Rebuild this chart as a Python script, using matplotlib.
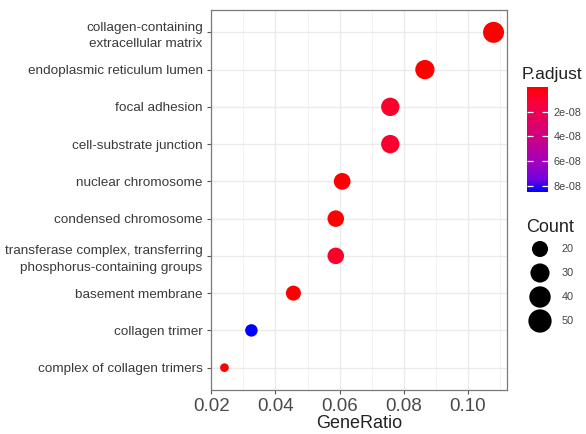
import matplotlib
matplotlib.use('Agg')
import matplotlib.pyplot as plt
import numpy as np
from matplotlib.colors import LinearSegmentedColormap, Normalize

plt.rcParams['font.family'] = ['Liberation Sans', 'DejaVu Sans']

# GO cellular component enrichment, top term first
terms = [
    'collagen-containing\nextracellular matrix',
    'endoplasmic reticulum lumen',
    'focal adhesion',
    'cell-substrate junction',
    'nuclear chromosome',
    'condensed chromosome',
    'transferase complex, transferring\nphosphorus-containing groups',
    'basement membrane',
    'collagen trimer',
    'complex of collagen trimers',
]
gene_ratio = [0.1080, 0.0866, 0.0758, 0.0758, 0.0608, 0.0588, 0.0588, 0.0456, 0.0325, 0.0241]
counts = [54, 43, 38, 38, 30, 29, 29, 23, 16, 12]
p_adjust = [1e-12, 1e-11, 9.0e-9, 9.5e-9, 5e-10, 1e-10, 8.5e-9, 2e-10, 8.5e-8, 1e-10]

count_breaks = [20, 30, 40, 50]
padj_ticks = [2e-8, 4e-8, 6e-8, 8e-8]

# red -> blue, roughly what ggplot's Lab interpolation gives
cmap = LinearSegmentedColormap.from_list('padj', [
    (0.0, '#FF0000'), (0.125, '#FB0035'), (0.25, '#EE0054'), (0.5, '#CA0089'),
    (0.75, '#9A00C3'), (0.875, '#7300E0'), (1.0, '#0000FF')])
norm = Normalize(vmin=min(p_adjust), vmax=max(p_adjust))

cmin, cmax = min(counts), max(counts)


def dot_size(c):
    # diameter in px, area-scaled like scale_size, then to pt^2
    d_px = 8.7 + 12.3 * np.sqrt(np.clip((np.asarray(c, float) - cmin) / (cmax - cmin), 0, None))
    return (d_px * 0.72) ** 2


fig = plt.figure(figsize=(5.86, 4.34), dpi=100)
ax = fig.add_axes([211 / 586, 1 - 390 / 434, 296 / 586, 380 / 434])

y = np.arange(len(terms))[::-1]
ax.scatter(gene_ratio, y, s=dot_size(counts), c=p_adjust, cmap=cmap, norm=norm,
           linewidths=0, zorder=3)

ax.set_ylim(-0.6, len(terms) - 0.4)
span = max(gene_ratio) - min(gene_ratio)
ax.set_xlim(min(gene_ratio) - 0.05 * span, max(gene_ratio) + 0.05 * span)
ax.set_xticks([0.02, 0.04, 0.06, 0.08, 0.10])
ax.set_xticklabels(['0.02', '0.04', '0.06', '0.08', '0.10'])
ax.set_xticks([0.03, 0.05, 0.07, 0.09, 0.11], minor=True)
ax.set_yticks(y)
ax.set_yticklabels(terms, linespacing=1.5)

ax.grid(which='major', color='#EBEBEB', linewidth=1.0, zorder=0)
ax.grid(which='minor', axis='x', color='#F2F2F2', linewidth=0.7, zorder=0)
ax.set_axisbelow(True)
for sp in ax.spines.values():
    sp.set_color('#7A7A7A')
    sp.set_linewidth(0.9)
ax.tick_params(axis='y', which='major', length=3, color='#555555', labelsize=9.7,
               labelcolor='#3A3A3A', pad=3)
ax.tick_params(axis='x', which='major', length=3, color='#555555', labelsize=13.5,
               labelcolor='#4A4A4A', pad=3)
ax.tick_params(axis='x', which='minor', length=0)
ax.set_xlabel('GeneRatio', fontsize=13, color='#222222', labelpad=0)

# P.adjust colour bar, small values on top
cax = fig.add_axes([527 / 586, 1 - 192 / 434, 21 / 586, 105 / 434])
grad = np.linspace(norm.vmin, norm.vmax, 256).reshape(-1, 1)
cax.imshow(grad, aspect='auto', cmap=cmap, norm=norm, origin='upper',
           extent=[0, 1, norm.vmax, norm.vmin])
cax.set_xlim(0, 1)
cax.set_ylim(norm.vmax, norm.vmin)
cax.set_xticks([])
cax.set_yticks(padj_ticks)
cax.set_yticklabels([f'{v:.0e}' for v in padj_ticks])
cax.yaxis.tick_right()
cax.tick_params(axis='y', direction='in', left=True, right=True, color='white',
                length=4, width=0.9, labelsize=7.8, labelcolor='#444444', pad=4)
for sp in cax.spines.values():
    sp.set_visible(False)
fig.text(522 / 586, 1 - 75 / 434, 'P.adjust', fontsize=12.5, va='center', ha='left', color='#222222')

# Count size legend
fig.text(550 / 586, 1 - 228 / 434, 'Count', fontsize=13, va='center', ha='center', color='#222222')
lax = fig.add_axes([515 / 586, 1 - 335 / 434, 70 / 586, 100 / 434])
lax.set_xlim(0, 70)
lax.set_ylim(335, 235)
lax.axis('off')
ly = 249 + 24 * np.arange(len(count_breaks))
lax.scatter(np.full(len(count_breaks), 25), ly, s=dot_size(count_breaks) * 1.3,
            color='black', linewidths=0)
for yy, c in zip(ly, count_breaks):
    lax.text(47, yy, str(c), fontsize=7.8, va='center', ha='left', color='#444444')

fig.savefig('out.png', dpi=100)
